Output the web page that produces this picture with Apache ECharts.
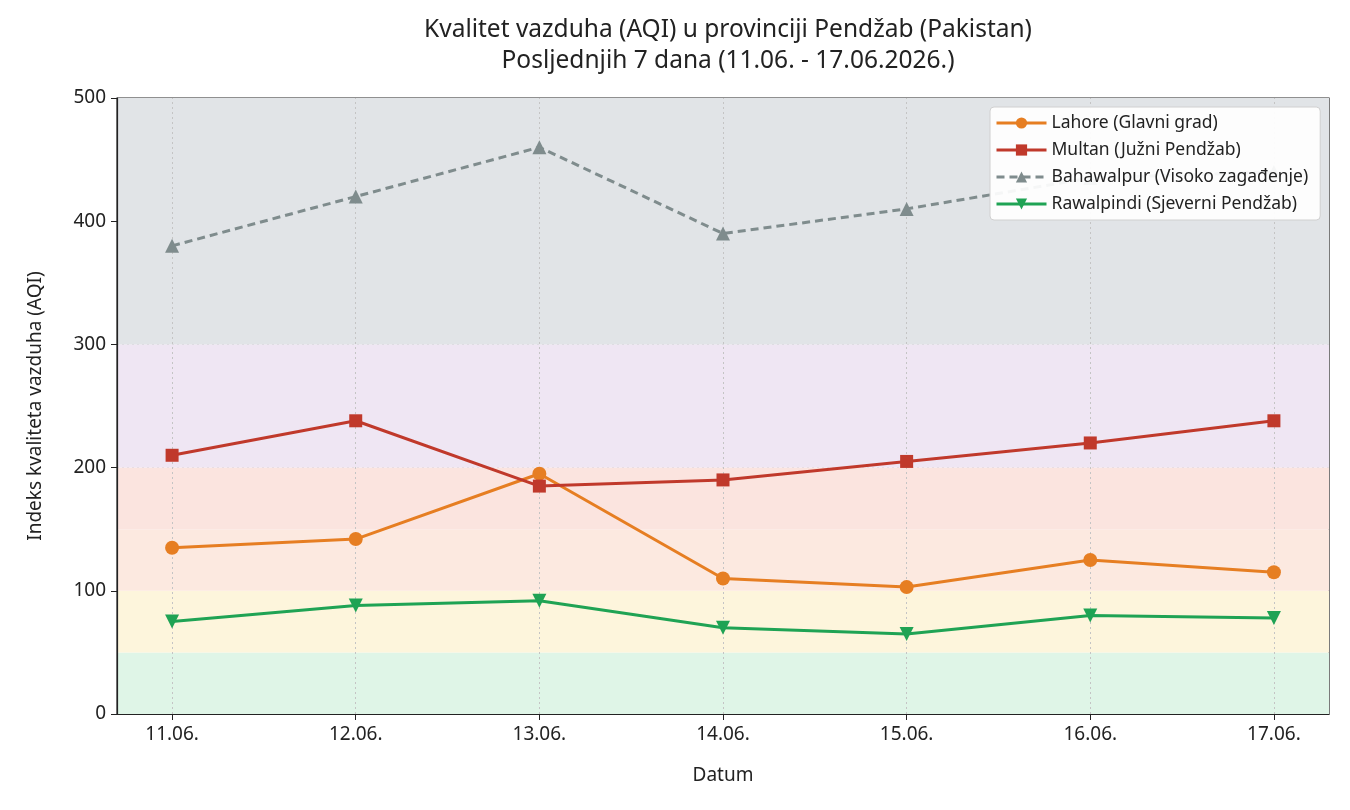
<!DOCTYPE html>
<html><head><meta charset="utf-8">
<script src="https://cdn.jsdelivr.net/npm/echarts@6/dist/echarts.min.js"></script>
<style>html,body{margin:0;padding:0;background:#fff}#c{width:1350px;height:810px}</style>
</head><body><div id="c"></div>
<script>
const categories = ['11.06.', '12.06.', '13.06.', '14.06.', '15.06.', '16.06.', '17.06.'];
const lahore = [135, 142, 195, 110, 103, 125, 115];
const multan = [210, 238, 185, 190, 205, 220, 238];
const bahawalpur = [380, 420, 460, 390, 410, 435, 440];
const rawalpindi = [75, 88, 92, 70, 65, 80, 78];
const seriesNames = ['Lahore (Glavni grad)', 'Multan (Južni Pendžab)', 'Bahawalpur (Visoko zagađenje)', 'Rawalpindi (Sjeverni Pendžab)'];
const bandEdges = [0, 50, 100, 150, 200, 300, 500];
const bandColors = ['#dff5e7', '#fdf5dc', '#fce9e0', '#fbe4df', '#efe6f3', '#e1e4e7'];

const FONT = 'Noto Sans';
const idx = categories.map((c, i) => i);
const toPts = arr => arr.map((v, i) => [i, v]);

const chart = echarts.init(document.getElementById('c'));
const bands = [];
for (let i = 0; i < bandColors.length; i++) {
  bands.push([{ yAxis: bandEdges[i], itemStyle: { color: bandColors[i] } }, { yAxis: bandEdges[i + 1] }]);
}
const vlines = idx.map(i => ({ xAxis: i }));
const mk = (name, data, color, symbol, dashed) => ({
  name, type: 'line', data: toPts(data), symbol, symbolSize: symbol === 'rect' ? 13 : 14,
  lineStyle: { color, width: 3, type: dashed ? [8, 5] : 'solid' },
  itemStyle: { color }, z: 6, animation: false
});
chart.setOption({
  animation: false,
  textStyle: { fontFamily: FONT },
  title: {
    text: 'Kvalitet vazduha (AQI) u provinciji Pendžab (Pakistan)\nPosljednjih 7 dana (11.06. - 17.06.2026.)',
    left: 723, textAlign: 'center', top: 10,
    textStyle: { fontFamily: FONT, fontSize: 24.5, fontWeight: 'normal', color: '#222', lineHeight: 31 }
  },
  legend: {
    data: seriesNames, orient: 'vertical', left: 990, top: 107, z: 20,
    backgroundColor: 'rgba(255,255,255,0.92)', borderColor: '#d0d0d0', borderWidth: 1, borderRadius: 4,
    padding: [7, 12, 7, 5], itemGap: 9, itemWidth: 50, itemHeight: 14,
    lineStyle: { width: 3 },
    textStyle: { fontFamily: FONT, fontSize: 17.5, color: '#222' }
  },
  grid: { left: 117, right: 21, top: 98, bottom: 96, show: true, borderColor: '#222', borderWidth: 1.2, backgroundColor: 'transparent' },
  xAxis: {
    type: 'value', min: -0.3, max: 6.3,
    name: 'Datum', nameLocation: 'middle', nameGap: 52,
    nameTextStyle: { fontFamily: FONT, fontSize: 19, color: '#222' },
    axisLine: { show: true, onZero: false, lineStyle: { color: '#222', width: 1.2 } },
    axisTick: { show: true, customValues: idx, length: 6, lineStyle: { color: '#222' } },
    axisLabel: { customValues: idx, formatter: v => categories[Math.round(v)] || '', fontFamily: FONT, fontSize: 19, color: '#222', margin: 11 },
    splitLine: { show: false }
  },
  yAxis: {
    type: 'value', min: 0, max: 500, interval: 100,
    name: 'Indeks kvaliteta vazduha (AQI)', nameLocation: 'middle', nameGap: 72,
    nameTextStyle: { fontFamily: FONT, fontSize: 19, color: '#222' },
    axisLine: { show: true, onZero: false, lineStyle: { color: '#222', width: 1.2 } },
    axisTick: { show: true, length: 6, lineStyle: { color: '#222' } },
    axisLabel: { fontFamily: FONT, fontSize: 19, color: '#222', margin: 11 },
    splitLine: { show: true, lineStyle: { color: '#c4c4c4', type: [2, 3], width: 1 } }
  },
  series: [
    { name: '_bands', type: 'line', data: [], z: 1, silent: true,
      markArea: { silent: true, data: bands, z: 0 },
      markLine: { silent: true, z: 1, symbol: 'none', label: { show: false },
        lineStyle: { color: '#c4c4c4', type: [2, 3], width: 1 }, data: vlines } },
    mk(seriesNames[0], lahore, '#e67e22', 'circle', false),
    mk(seriesNames[1], multan, '#c0392b', 'rect', false),
    mk(seriesNames[2], bahawalpur, '#7f8c8d', 'triangle', true),
    Object.assign(mk(seriesNames[3], rawalpindi, '#1fa354', 'triangle', false), { symbolRotate: 180 })
  ]
});
</script></body></html>
